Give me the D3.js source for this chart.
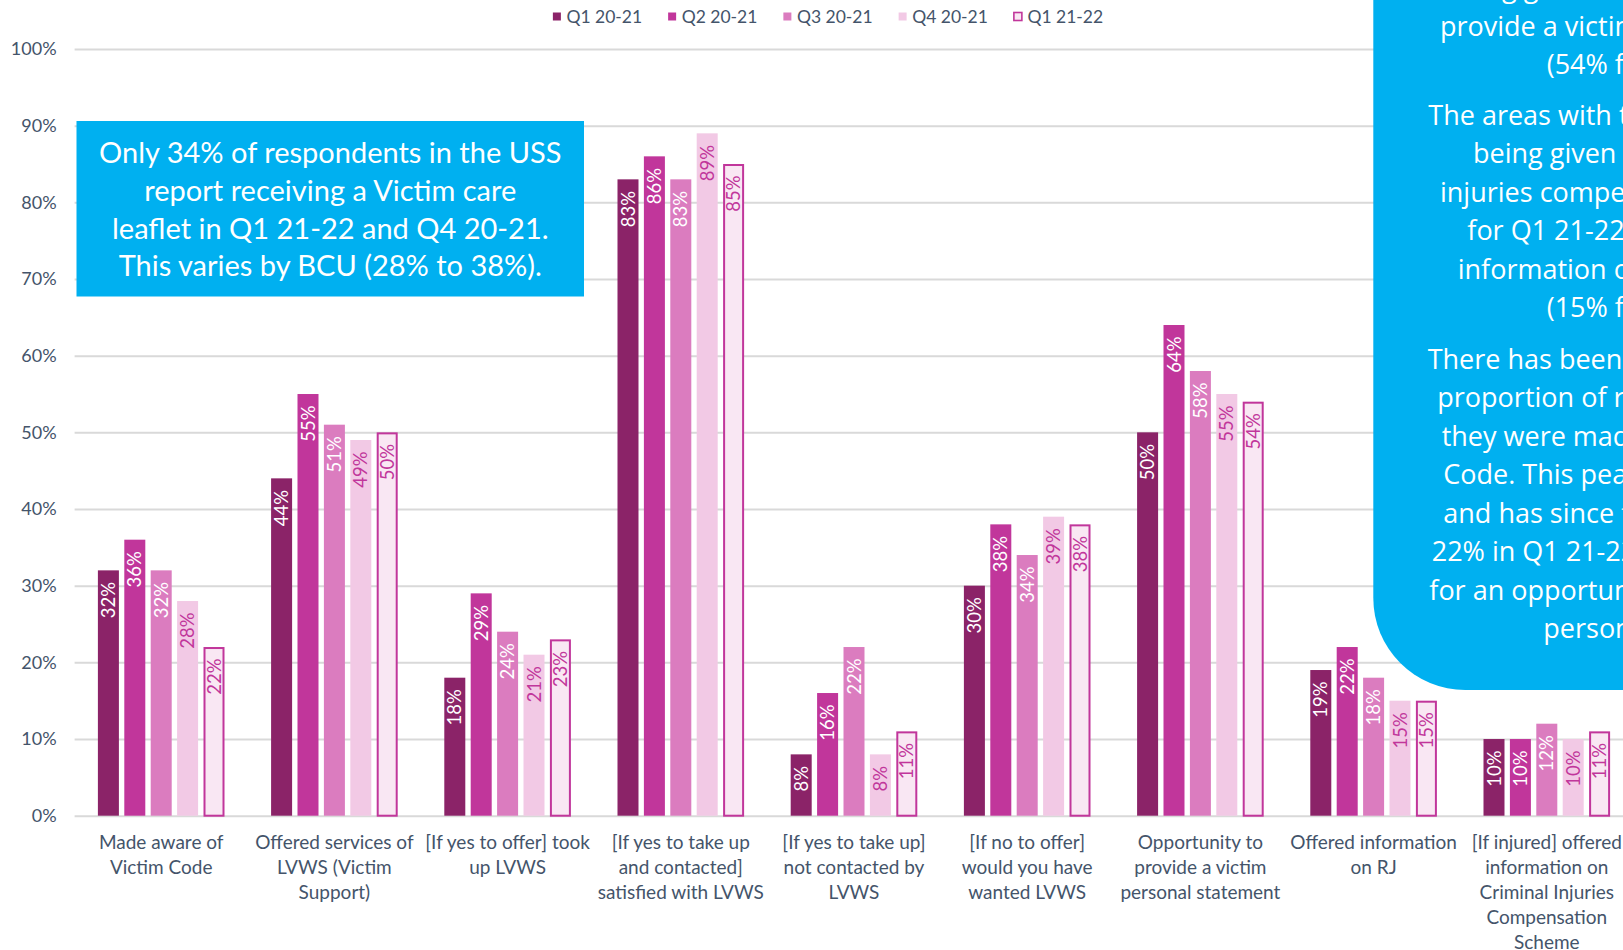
<!DOCTYPE html>
<html>
<head>
<meta charset="utf-8">
<script src="https://cdn.jsdelivr.net/npm/d3@7"></script>
<style>
  html, body { margin: 0; padding: 0; background: #ffffff; overflow: hidden; }
  svg { display: block; }
</style>
</head>
<body>
<svg id="chart" width="1623" height="950"></svg>
<script>
// ---- data -----------------------------------------------------------
const categories = [
  "Made aware of\nVictim Code",
  "Offered services of\nLVWS (Victim\nSupport)",
  "[If yes to offer] took\nup LVWS",
  "[If yes to take up\nand contacted]\nsatisfied with LVWS",
  "[If yes to take up]\nnot contacted by\nLVWS",
  "[If no to offer]\nwould you have\nwanted LVWS",
  "Opportunity to\nprovide a victim\npersonal statement",
  "Offered information\non RJ",
  "[If injured] offered\ninformation on\nCriminal Injuries\nCompensation\nScheme"
];
const seriesNames = ["Q1 20-21", "Q2 20-21", "Q3 20-21", "Q4 20-21", "Q1 21-22"];
const q1_2021 = [32, 44, 18, 83, 8, 30, 50, 19, 10];
const q2_2021 = [36, 55, 29, 86, 16, 38, 64, 22, 10];
const q3_2021 = [32, 51, 24, 83, 22, 34, 58, 18, 12];
const q4_2021 = [28, 49, 21, 89, 8, 39, 55, 15, 10];
const q1_2122 = [22, 50, 23, 85, 11, 38, 54, 15, 11];
const yTicks = [0, 10, 20, 30, 40, 50, 60, 70, 80, 90, 100];

const leftNote = [
  "Only 34% of respondents in the USS",
  "report receiving a Victim care",
  "leaflet in Q1 21-22 and Q4 20-21.",
  "This varies by BCU (28% to 38%)."
];
const rightNote = [
  ["being given the opportunity to",
   "provide a victim personal statement",
   "(54% for Q1 21-22)."],
  ["The areas with the lowest proportion",
   "being given criminal",
   "injuries compensation information",
   "for Q1 21-22 were also lowest for",
   "information on RJ",
   "(15% for Q1 21-22)."],
  ["There has been a decrease in the",
   "proportion of respondents saying",
   "they were made aware of the Victim",
   "Code. This peaked at 36% in Q2",
   "and has since fallen to",
   "22% in Q1 21-22. The same is true",
   "for an opportunity to provide a victim",
   "personal statement."]
];

// ---- styling ----------------------------------------------------------
const seriesValues = [q1_2021, q2_2021, q3_2021, q4_2021, q1_2122];
const fills   = ["#8b2368", "#c1369b", "#db7cbf", "#f2c9e5", "#f9e7f3"];
const strokes = [null, null, null, null, "#c1369b"];
const labelColors = ["#ffffff", "#ffffff", "#ffffff", "#c1369b", "#c1369b"];
const textColor = "#44546a";
const noteBlue = "#00b0f0";
const font = "Lato, 'Liberation Sans', sans-serif";

const svg = d3.select("#chart");

// ---- scales -----------------------------------------------------------
const plotLeft = 74.6, step = 173.2;
const x0 = d3.scaleBand()
  .domain(categories)
  .range([plotLeft, plotLeft + step * categories.length])
  .paddingInner(0.269)
  .paddingOuter(0.1345);
const x1 = d3.scaleBand()
  .domain(seriesNames)
  .range([0, x0.bandwidth()])
  .paddingInner(0.2045);
const y = d3.scaleLinear().domain([0, 100]).range([815.7, 49]);

// ---- gridlines & y axis ----------------------------------------------
const yAxis = d3.axisLeft(y)
  .tickValues(yTicks)
  .tickSize(-(1623 - plotLeft))
  .tickPadding(18)
  .tickFormat(d => d + "%");
const gy = svg.append("g")
  .attr("transform", `translate(${plotLeft},0)`)
  .call(yAxis);
gy.select(".domain").remove();
gy.selectAll(".tick line").attr("stroke", "#d9d9d9").attr("stroke-width", 2);
gy.selectAll(".tick text")
  .attr("fill", textColor)
  .style("font-family", font)
  .style("font-size", "18px");

// ---- bars -------------------------------------------------------------
const groups = svg.append("g").selectAll("g")
  .data(categories)
  .join("g")
  .attr("transform", d => `translate(${x0(d)},0)`);

groups.each(function (cat, ci) {
  const g = d3.select(this);
  seriesNames.forEach((s, si) => {
    const v = seriesValues[si][ci];
    const bx = x1(s), bw = x1.bandwidth();
    const inset = strokes[si] ? 1 : 0;
    g.append("rect")
      .attr("x", bx + inset)
      .attr("y", y(v) + inset)
      .attr("width", bw - inset * 2)
      .attr("height", y(0) - y(v) - inset)
      .attr("fill", fills[si])
      .attr("stroke", strokes[si] || "none")
      .attr("stroke-width", strokes[si] ? 2 : 0);
    g.append("text")
      .attr("transform", `translate(${bx + bw / 2},${y(v) + 11.5}) rotate(-90)`)
      .attr("text-anchor", "end")
      .attr("dy", "0.36em")
      .attr("fill", labelColors[si])
      .style("font-family", font)
      .style("font-size", "18.5px")
      .text(v + "%");
  });
});

// ---- category labels --------------------------------------------------
const catLabels = svg.append("g").selectAll("text")
  .data(categories)
  .join("text")
  .attr("text-anchor", "middle")
  .attr("fill", textColor)
  .style("font-family", font)
  .style("font-size", "19px");
catLabels.each(function (d) {
  const t = d3.select(this);
  d.split("\n").forEach((line, i) => {
    t.append("tspan")
      .attr("x", x0(d) + x0.bandwidth() / 2)
      .attr("y", 849 + i * 25)
      .text(line);
  });
});

// ---- legend -----------------------------------------------------------
const legend = svg.append("g");
const items = legend.selectAll("g").data(seriesNames).join("g");
items.append("rect")
  .attr("width", 8).attr("height", 8)
  .attr("y", 12.5)
  .attr("fill", (d, i) => fills[i])
  .attr("stroke", (d, i) => strokes[i] || "none")
  .attr("stroke-width", 1.6);
items.append("text")
  .attr("x", 13.5)
  .attr("y", 22.5)
  .attr("fill", textColor)
  .style("font-family", font)
  .style("font-size", "17.5px")
  .text(d => d);
let cursor = 0;
const offsets = [];
items.each(function () {
  offsets.push(cursor);
  const w = d3.select(this).select("text").node().getComputedTextLength();
  cursor += 13.5 + w + 26;
});
const legendWidth = cursor - 26;
const legendStart = 828 - legendWidth / 2;
items.attr("transform", (d, i) => `translate(${legendStart + offsets[i]},0)`);

// ---- left note --------------------------------------------------------
const leftBox = svg.append("g");
leftBox.append("rect")
  .attr("x", 76.5).attr("y", 121)
  .attr("width", 507.5).attr("height", 175.5)
  .attr("fill", noteBlue);
leftBox.append("text")
  .attr("text-anchor", "middle")
  .attr("fill", "#ffffff")
  .style("font-family", font)
  .style("font-size", "29px")
  .selectAll("tspan")
  .data(leftNote)
  .join("tspan")
  .attr("x", 330.3)
  .attr("y", (d, i) => 163.3 + i * 37.6)
  .text(d => d);

// ---- right note (extends past the right edge) -------------------------
const rightBox = svg.append("g");
const bx = 1373.3, bBottom = 690, r = 92;
rightBox.append("path")
  .attr("d", `M${bx},-20 L${bx},${bBottom - r} A${r},${r} 0 0 0 ${bx + r},${bBottom} L1700,${bBottom} L1700,-20 Z`)
  .attr("fill", noteBlue);
const rightStarts = [
  [1447, 1440, 1546.7],
  [1428.3, 1473, 1440, 1467.3, 1457.7, 1546.7],
  [1427.7, 1437.3, 1441.7, 1443.3, 1443.3, 1431.7, 1429.3, 1543.3]
];
const paraTop = [-3, 124.5, 368.5];
const rightText = rightBox.append("text")
  .attr("fill", "#ffffff")
  .style("font-family", "'Open Sans', sans-serif")
  .style("font-size", "27px");
rightNote.forEach((para, pi) => {
  para.forEach((line, li) => {
    rightText.append("tspan")
      .attr("x", rightStarts[pi][li])
      .attr("y", paraTop[pi] + li * 38.5)
      .text(line);
  });
});
</script>
</body>
</html>
